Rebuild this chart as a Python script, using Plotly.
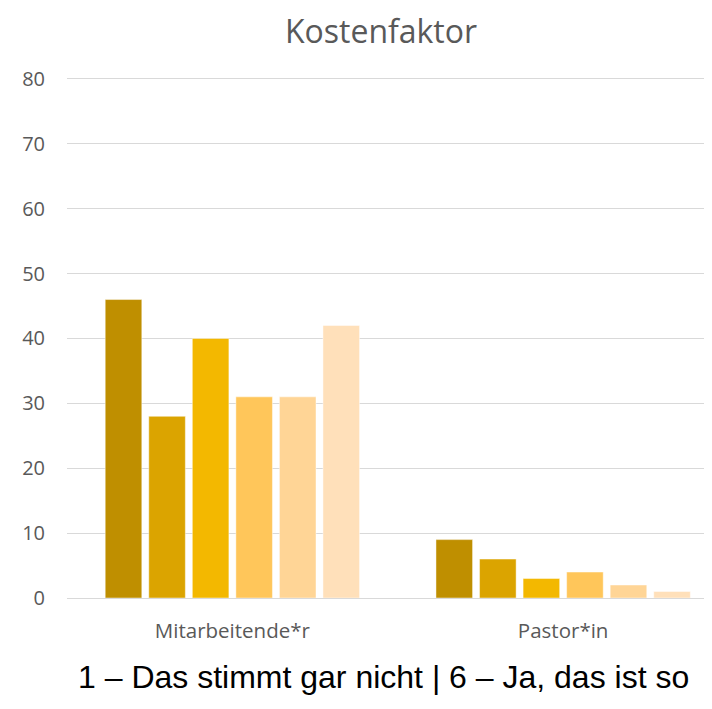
import plotly.graph_objects as go

categories = ['Mitarbeitende*r', 'Pastor*in']
series_names = ['1', '2', '3', '4', '5', '6']
values = [
    [46, 9],
    [28, 6],
    [40, 3],
    [31, 4],
    [31, 2],
    [42, 1],
]
colors = ['#BF8F00', '#DBA400', '#F3B800', '#FFC65A', '#FFD596', '#FFE0BA']

# the page body adds an 8px offset, so the figure is sized to fit inside it
W, H = 704, 701

fig = go.Figure()
for name, vals, col in zip(series_names, values, colors):
    fig.add_trace(go.Bar(
        x=categories,
        y=vals,
        name=name,
        marker_color=col,
        marker_line=dict(color='rgba(255,255,255,0.45)', width=1),
    ))

fig.update_layout(
    barmode='group',
    bargap=0.21,
    bargroupgap=0.16,
    width=W,
    height=H,
    margin=dict(l=59, r=0, t=69, b=111),
    paper_bgcolor='white',
    plot_bgcolor='white',
    showlegend=False,
    title=dict(
        text='Kostenfaktor',
        x=373 / W, xanchor='center', xref='container',
        y=1 - 24 / H, yanchor='middle', yref='container',
        font=dict(family='Open Sans', size=32, color='#595959'),
    ),
    xaxis=dict(
        range=[-0.5, 1.45],
        showgrid=False,
        showline=False,
        ticks='',
        tickfont=dict(family='Open Sans', size=20.5, color='#595959'),
        ticklabelstandoff=18,
    ),
    yaxis=dict(
        range=[0, 80.3],
        tickvals=[0, 10, 20, 30, 40, 50, 60, 70, 80],
        showgrid=True,
        gridcolor='#D9D9D9',
        gridwidth=1,
        zeroline=True,
        zerolinecolor='#D9D9D9',
        zerolinewidth=1,
        showline=False,
        ticks='',
        tickfont=dict(family='Open Sans', size=20, color='#595959'),
        ticklabelstandoff=21,
    ),
)

plot_h = H - 69 - 111
fig.add_annotation(
    text='1 – Das stimmt gar nicht | 6 – Ja, das ist so',
    x=(375 - 59) / (W - 59), xref='paper', xanchor='center',
    y=-(669 - (H - 111)) / plot_h, yref='paper', yanchor='middle',
    showarrow=False,
    font=dict(family='Liberation Sans', size=32, color='black'),
)

fig.write_html('out.html')
